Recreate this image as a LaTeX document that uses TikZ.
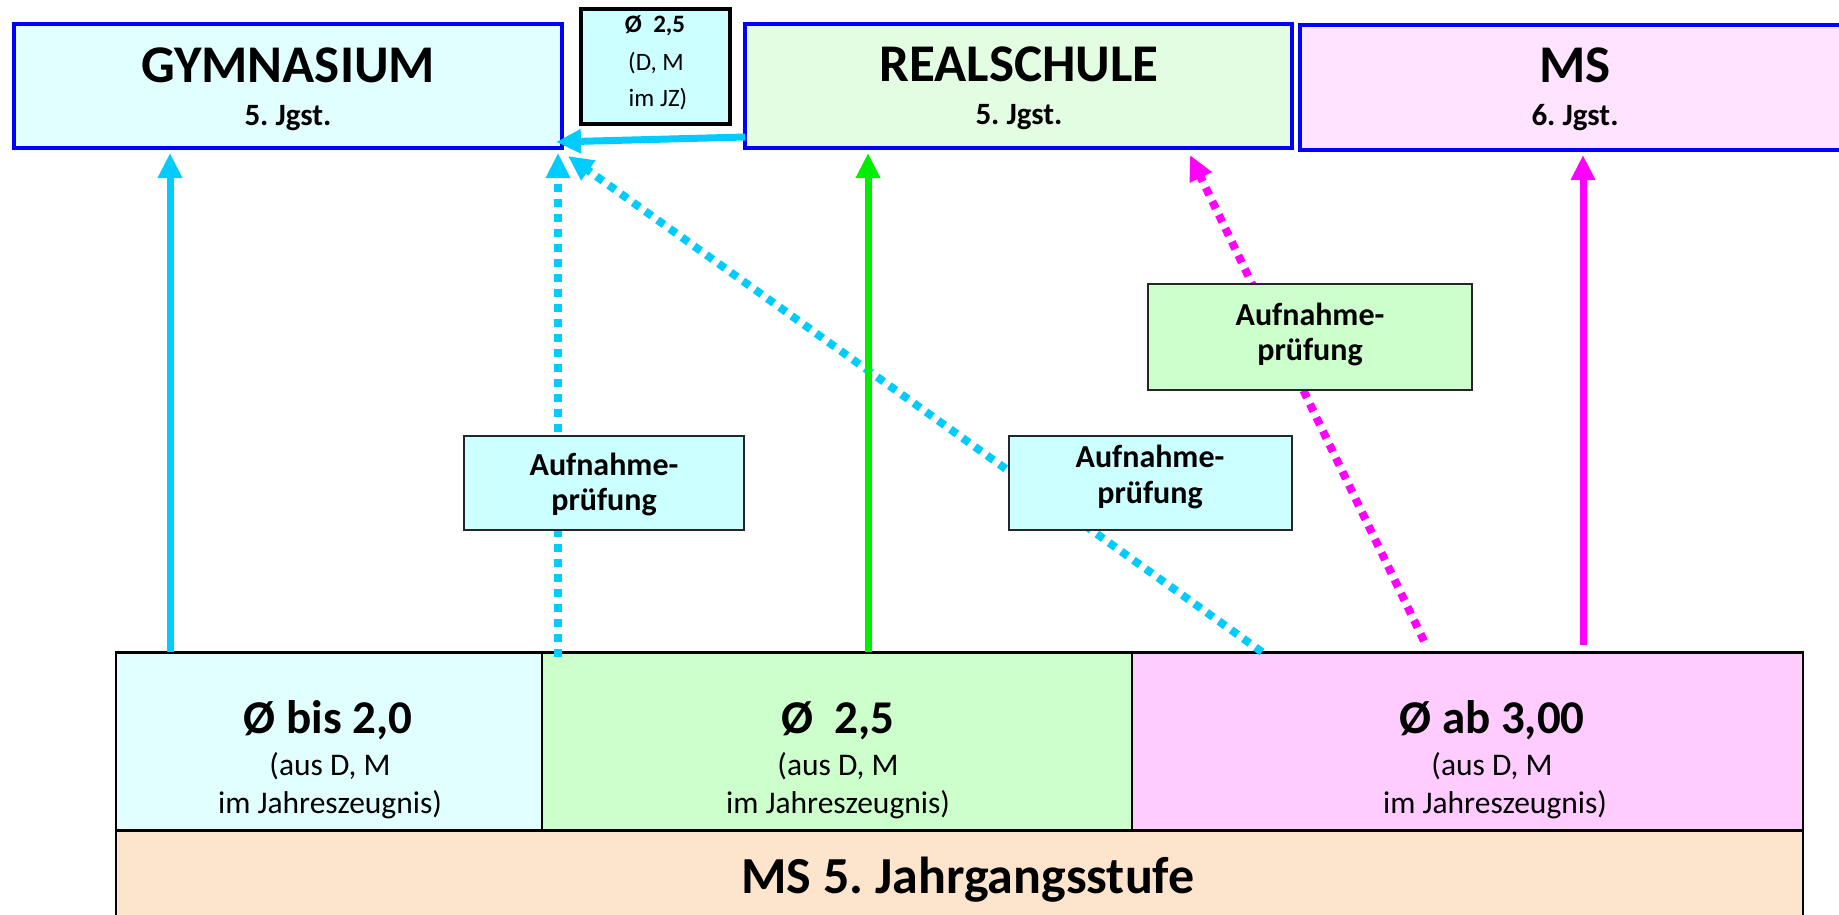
\documentclass[tikz,border=0pt]{standalone}
\usepackage{fontspec}
\setmainfont{Carlito}
\usetikzlibrary{arrows.meta}
\frenchspacing
\definecolor{gymfill}{HTML}{E1FFFF}
\definecolor{rsfill}{HTML}{E3FDE3}
\definecolor{msfill}{HTML}{FFE3FF}
\definecolor{cyanbox}{HTML}{CCFFFF}
\definecolor{greenbox}{HTML}{CCFFCC}
\definecolor{pinkbox}{HTML}{FFCCFF}
\definecolor{orangebox}{HTML}{FDE4CC}
\definecolor{arrcyan}{HTML}{00CCFF}
\definecolor{arrgreen}{HTML}{00EE00}
\definecolor{arrmag}{HTML}{FF00FF}
\definecolor{bordblue}{HTML}{0000FF}
\begin{document}
\frenchspacing
\begin{tikzpicture}[x=1pt,y=-1pt,
  box/.style={rectangle,inner sep=0pt,outer sep=0pt},
  schoolbox/.style={box,draw=bordblue,line width=4pt},
  cellbox/.style={box,draw=black,line width=2pt},
  exambox/.style={box,draw=black!85,line width=1.5pt},
  lbl/.style={inner sep=0pt,anchor=base},
  fA/.style={font=\fontsize{53}{60}\selectfont\bfseries},
  fB/.style={font=\fontsize{31}{36}\selectfont\bfseries},
  fC/.style={font=\fontsize{25}{30}\selectfont},
  fCb/.style={font=\fontsize{25}{30}\selectfont\bfseries},
  fD/.style={font=\fontsize{47}{54}\selectfont\bfseries},
  fE/.style={font=\fontsize{31.5}{36}\selectfont},
  fF/.style={font=\fontsize{32}{38}\selectfont\bfseries},
  fG/.style={font=\fontsize{52}{60}\selectfont\bfseries},
  tiphead/.style={-{Triangle[length=25pt,width=23pt]}},
  solidarrow/.style={tiphead,line width=7pt},
  dotarrow/.style={tiphead,line width=8pt,dash pattern=on 8pt off 7pt},
]
\useasboundingbox (0,0) rectangle (1839,915);
\clip (0,0) rectangle (1839,915);
\fill[white] (0,0) rectangle (1839,915);

% top boxes
\node[schoolbox,fill=gymfill,minimum width=548pt,minimum height=124pt] (gym) at (288,86) {};
\node[schoolbox,fill=rsfill,minimum width=547pt,minimum height=124pt] (rs) at (1018.5,86) {};
\node[schoolbox,fill=msfill,minimum width=550pt,minimum height=125pt] (ms) at (1575,87.5) {};
\node[box,draw=black,line width=3.5pt,fill=cyanbox,minimum width=149pt,minimum height=115pt] (avg) at (655.5,66.5) {};

% bottom cells
\node[cellbox,fill=gymfill,minimum width=426pt,minimum height=178pt] (c1) at (329,741) {};
\node[cellbox,fill=greenbox,minimum width=590pt,minimum height=178pt] (c2) at (837,741) {};
\node[cellbox,fill=pinkbox,minimum width=671pt,minimum height=178pt] (c3) at (1467.5,741) {};
\node[cellbox,fill=orangebox,minimum width=1687pt,minimum height=100pt] (base) at (959.5,880) {};
\draw[line width=3pt] (c1.north west) -- (c3.north east);
\draw[line width=3pt] (c1.south west) -- (c3.south east);

% arrows
\draw[solidarrow,arrcyan] ([xshift=54pt]c1.north west) -- ([xshift=156pt,yshift=-5pt]gym.south west);
\draw[dotarrow,arrcyan] ([xshift=16pt,yshift=-5pt]c1.north east) -- ([xshift=-4pt,yshift=-5pt]gym.south east);
\draw[dotarrow,arrcyan] ([xshift=130pt]c3.north west) -- ([xshift=6pt,yshift=-8pt]gym.south east);
\draw[solidarrow,arrcyan] ([yshift=11pt]rs.south west) -- ([xshift=-6pt,yshift=6pt]gym.south east);
\draw[solidarrow,arrgreen] ([xshift=326pt]c2.north west) -- ([xshift=123pt,yshift=-5pt]rs.south west);
\draw[dotarrow,arrmag] ([xshift=292pt,yshift=11pt]c3.north west) -- ([xshift=-102pt,yshift=-7pt]rs.south east);
\draw[solidarrow,arrmag] ([xshift=451pt,yshift=7pt]c3.north west) -- ([xshift=283pt,yshift=-5pt]ms.south west);

% exam boxes
\node[exambox,fill=cyanbox,minimum width=280pt,minimum height=94pt] (ex1) at (604,483) {};
\node[exambox,fill=cyanbox,minimum width=283pt,minimum height=94pt] (ex2) at (1150.5,483) {};
\node[exambox,fill=greenbox,minimum width=324pt,minimum height=106pt] (ex3) at (1310,337) {};

% texts
\node[lbl,fA] (gymT) at (288,83) {GYMNASIUM};
\node[lbl,fB] (gymS) at (288,126) {5. Jgst.};
\node[lbl,fA] (rsT) at (1019,82) {REALSCHULE};
\node[lbl,fB] (rsS) at (1019,125) {5. Jgst.};
\node[lbl,fA] (msT) at (1575,83) {MS};
\node[lbl,fB] (msS) at (1575,126) {6. Jgst.};

\node[lbl,fCb] (avgA) at (655,33) {Ø\ \ 2,5};
\node[lbl,fC] (avgB) at (656,71) {(D, M};
\node[lbl,fC] (avgC) at (658,107) {im JZ)};

\node[lbl,fD] (c1A) at (328,733) {Ø bis 2,0};
\node[lbl,fE] (c1B) at (330,775) {(aus D, M};
\node[lbl,fE] (c1C) at (330,813) {im Jahreszeugnis)};
\node[lbl,fD] (c2A) at (838,733) {Ø\ \ 2,5};
\node[lbl,fE] (c2B) at (838,775) {(aus D, M};
\node[lbl,fE] (c2C) at (838,813) {im Jahreszeugnis)};
\node[lbl,fD] (c3A) at (1492,733) {Ø ab 3,00};
\node[lbl,fE] (c3B) at (1492,775) {(aus D, M};
\node[lbl,fE] (c3C) at (1495,813) {im Jahreszeugnis)};
\node[lbl,fG] (baseT) at (968,893) {MS 5. Jahrgangsstufe};

\node[lbl,fF] (ex1A) at (604,475) {Aufnahme-};
\node[lbl,fF] (ex1B) at (604,510) {prüfung};
\node[lbl,fF] (ex2A) at (1150,467) {Aufnahme-};
\node[lbl,fF] (ex2B) at (1150,503) {prüfung};
\node[lbl,fF] (ex3A) at (1310,325) {Aufnahme-};
\node[lbl,fF] (ex3B) at (1310,360) {prüfung};
\end{tikzpicture}
\end{document}
